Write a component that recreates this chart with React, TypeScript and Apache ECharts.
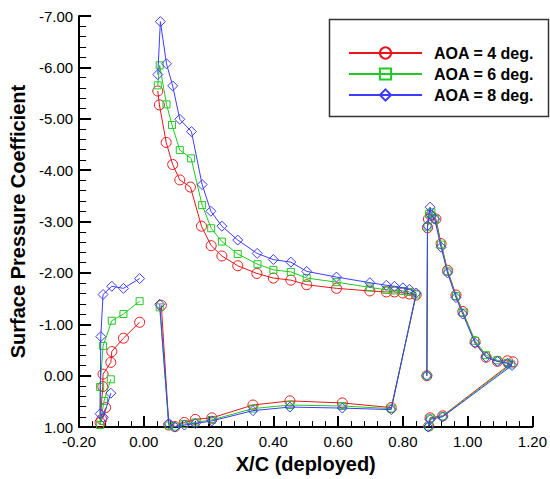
import React, { useEffect, useRef } from "react";
import * as echarts from "echarts";

const SERIES_NAMES = ["AOA = 4 deg.", "AOA = 6 deg.", "AOA = 8 deg."];
const COLORS = ["#e8161c", "#22c822", "#3d3dff"];
const SYMBOLS = ["circle", "rect", "diamond"];
const SYMBOL_SIZES = [10, 7, 10];

// Slat (lower TE -> LE -> upper TE)
const slat4 = [[-0.118, 0.62], [-0.13, 0.85], [-0.135, 0.91], [-0.127, 0.21], [-0.126, -0.03], [-0.102, -0.26], [-0.099, -0.47], [-0.063, -0.73], [-0.013, -1.04]];
const slat6 = [[-0.102, 0.07], [-0.123, 0.49], [-0.135, 0.96], [-0.135, 0.22], [-0.126, -0.58], [-0.099, -1.07], [-0.063, -1.2], [-0.013, -1.45]];
const slat8 = [[-0.102, 0.34], [-0.125, 0.81], [-0.135, 0.74], [-0.133, -0.76], [-0.126, -1.58], [-0.099, -1.74], [-0.063, -1.7], [-0.013, -1.89]];

// Main element (upper LE -> TE -> lower TE -> LE)
const main4 = [[0.043, -5.54], [0.048, -5.27], [0.069, -4.54], [0.089, -4.11], [0.111, -3.81], [0.144, -3.67], [0.178, -2.91], [0.208, -2.53], [0.241, -2.33], [0.29, -2.14], [0.349, -1.99], [0.4, -1.9], [0.454, -1.86], [0.503, -1.77], [0.595, -1.7], [0.698, -1.65], [0.749, -1.63], [0.774, -1.63], [0.8, -1.61], [0.82, -1.59], [0.841, -1.57],
  [0.764, 0.62], [0.613, 0.53], [0.451, 0.49], [0.337, 0.57], [0.21, 0.82], [0.159, 0.85], [0.125, 0.91], [0.096, 0.99], [0.077, 0.96], [0.054, -1.37]];
const main6 = [[0.043, -5.65], [0.049, -6.04], [0.07, -5.28], [0.087, -4.88], [0.111, -4.39], [0.146, -4.23], [0.18, -3.32], [0.208, -2.87], [0.241, -2.61], [0.29, -2.37], [0.351, -2.17], [0.4, -2.06], [0.454, -2.02], [0.503, -1.9], [0.595, -1.82], [0.698, -1.72], [0.749, -1.67], [0.774, -1.66], [0.8, -1.65], [0.82, -1.63], [0.841, -1.58],
  [0.764, 0.64], [0.613, 0.59], [0.451, 0.57], [0.337, 0.64], [0.21, 0.86], [0.159, 0.91], [0.125, 0.94], [0.096, 0.99], [0.077, 0.97], [0.049, -1.33]];
const main8 = [[0.043, -5.86], [0.051, -6.89], [0.07, -6.07], [0.089, -5.64], [0.111, -4.99], [0.147, -4.75], [0.18, -3.72], [0.207, -3.2], [0.241, -2.91], [0.29, -2.64], [0.35, -2.38], [0.4, -2.26], [0.454, -2.21], [0.503, -2.03], [0.595, -1.92], [0.698, -1.81], [0.749, -1.76], [0.774, -1.74], [0.8, -1.71], [0.82, -1.68], [0.841, -1.61],
  [0.764, 0.66], [0.613, 0.63], [0.451, 0.61], [0.337, 0.68], [0.21, 0.88], [0.159, 0.93], [0.125, 0.96], [0.096, 1.0], [0.077, 0.93], [0.049, -1.39]];

// Flap
const flap4 = [[0.874, 0.0], [0.876, -2.88], [0.879, -3.05], [0.886, -3.12], [0.902, -3.05], [0.918, -2.57], [0.938, -2.05], [0.964, -1.57], [0.985, -1.25], [1.023, -0.66], [1.057, -0.36], [1.092, -0.28], [1.123, -0.29], [1.14, -0.27], [0.923, 0.78], [0.884, 0.82], [0.88, 0.98]];
const flap6 = [[0.874, 0.0], [0.876, -2.9], [0.881, -3.15], [0.888, -3.18], [0.9, -3.05], [0.918, -2.55], [0.938, -2.03], [0.964, -1.55], [0.985, -1.23], [1.023, -0.68], [1.057, -0.4], [1.092, -0.3], [1.123, -0.25], [1.135, -0.22], [0.923, 0.79], [0.884, 0.83], [0.88, 0.99]];
const flap8 = [[0.874, 0.0], [0.876, -2.92], [0.884, -3.28], [0.888, -3.12], [0.898, -3.05], [0.918, -2.5], [0.938, -2.0], [0.964, -1.52], [0.985, -1.2], [1.023, -0.63], [1.057, -0.36], [1.092, -0.28], [1.123, -0.24], [1.137, -0.2], [0.923, 0.8], [0.884, 0.85], [0.878, 1.0]];

const ELEMENTS = [
  [slat4, main4, flap4],
  [slat6, main6, flap6],
  [slat8, main8, flap8],
];

const FONT = "'Liberation Sans', Arial, sans-serif";

export default function App() {
  const ref = useRef<HTMLDivElement>(null);
  useEffect(() => {
    if (!ref.current) return;
    document.body.style.margin = "0";
    const chart = echarts.init(ref.current, null, { renderer: "svg" });
    const series: any[] = [];
    ELEMENTS.forEach((parts, i) => {
      parts.forEach((d) => {
        series.push({
          name: SERIES_NAMES[i],
          type: "line",
          data: d,
          symbol: SYMBOLS[i],
          symbolSize: SYMBOL_SIZES[i],
          showSymbol: true,
          showAllSymbol: true,
          lineStyle: { color: COLORS[i], width: 1 },
          itemStyle: { color: "rgba(255,255,255,0)", borderColor: COLORS[i], borderWidth: 1 },
          emphasis: { disabled: true },
          z: 2 + i,
        });
      });
    });
    chart.setOption({
      animation: false,
      backgroundColor: "#ffffff",
      grid: { left: 78, right: 17, top: 16, bottom: 48.5, containLabel: false },
      xAxis: {
        type: "value",
        min: -0.2,
        max: 1.2,
        interval: 0.2,
        name: "X/C (deployed)",
        nameLocation: "middle",
        nameGap: 24,
        nameTextStyle: { fontFamily: FONT, fontSize: 20, fontWeight: "bold", color: "#000" },
        axisLine: { show: true, onZero: false, lineStyle: { color: "#000", width: 2 } },
        axisTick: { show: true, inside: true, length: 11, lineStyle: { color: "#000", width: 2 } },
        minorTick: { show: true, splitNumber: 5, length: 6, lineStyle: { color: "#000", width: 1 } },
        axisLabel: { fontFamily: FONT, fontSize: 15, color: "#000", margin: 7, formatter: (v: number) => v.toFixed(2) },
        splitLine: { show: false },
      },
      yAxis: {
        type: "value",
        inverse: true,
        min: -7,
        max: 1,
        interval: 1,
        name: "Surface Pressure Coefficient",
        nameLocation: "middle",
        nameGap: 45,
        nameTextStyle: { fontFamily: FONT, fontSize: 20, fontWeight: "bold", color: "#000" },
        axisLine: { show: true, onZero: false, lineStyle: { color: "#000", width: 2 } },
        axisTick: { show: true, inside: true, length: 12, lineStyle: { color: "#000", width: 2 } },
        minorTick: { show: true, splitNumber: 5, length: 7, lineStyle: { color: "#000", width: 1 } },
        axisLabel: { fontFamily: FONT, fontSize: 15, color: "#000", margin: 6, formatter: (v: number) => (v === 0 ? 0 : v).toFixed(2) },
        splitLine: { show: false },
      },
      legend: {
        data: SERIES_NAMES,
        orient: "vertical",
        left: 348,
        top: 45,
        padding: 0,
        itemWidth: 73,
        itemHeight: 14,
        itemGap: 5,
        selectedMode: false,
        textStyle: { fontFamily: FONT, fontSize: 16, fontWeight: "bold", color: "#000", padding: [0, 0, 0, 7] },
      },
      graphic: [
        {
          type: "rect",
          shape: { x: 329.5, y: 19.5, width: 219, height: 97 },
          style: { fill: "none", stroke: "#333", lineWidth: 1.5 },
          z: 1,
        },
      ],
      series,
    });
    return () => chart.dispose();
  }, []);
  return <div ref={ref} style={{ width: 550, height: 479 }} />;
}
